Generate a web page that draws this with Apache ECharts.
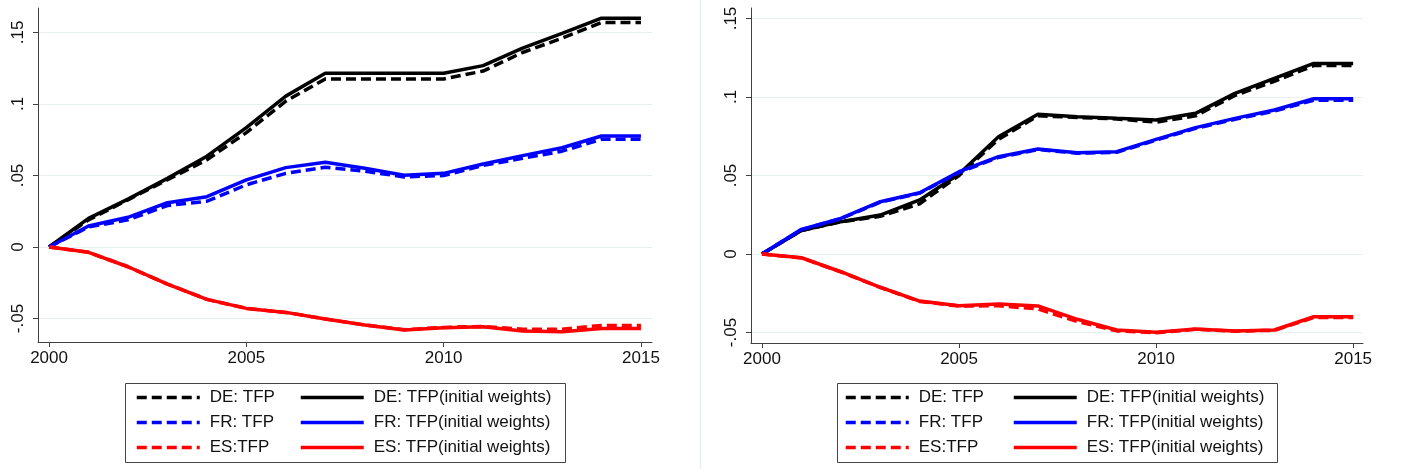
<!DOCTYPE html>
<html lang="en">
<head>
<meta charset="UTF-8">
<title>TFP DE FR ES</title>
<style>
    * { margin: 0; padding: 0; }
    #chart { width: 1403px; height: 469px; background: #fff; }
</style>
<script src="https://cdn.jsdelivr.net/npm/echarts@6/dist/echarts.min.js"></script>
</head>
<body>
<div id="chart"></div>
<script>
// years on the x axis
var years = [2000, 2001, 2002, 2003, 2004, 2005, 2006, 2007, 2008, 2009, 2010, 2011, 2012, 2013, 2014, 2015];
var xTicks = [2000, 2005, 2010, 2015];
var yTicks = [-0.05, 0, 0.05, 0.1, 0.15];

// left panel
var deTfpA  = [0, 0.019, 0.033, 0.047, 0.061, 0.080, 0.102, 0.1175, 0.1175, 0.1175, 0.1175, 0.123, 0.136, 0.146, 0.157, 0.157];
var deInitA = [0, 0.020, 0.0335, 0.048, 0.0635, 0.0835, 0.1055, 0.1215, 0.1215, 0.1215, 0.1215, 0.1268, 0.139, 0.1494, 0.160, 0.160];
var frTfpA  = [0, 0.014, 0.019, 0.029, 0.032, 0.0435, 0.0515, 0.0557, 0.053, 0.049, 0.050, 0.057, 0.062, 0.067, 0.0753, 0.0753];
var frInitA = [0, 0.0147, 0.0208, 0.031, 0.0352, 0.0469, 0.0555, 0.0592, 0.055, 0.0502, 0.0515, 0.058, 0.0639, 0.0694, 0.0776, 0.0776];
var esTfpA  = [0, -0.0037, -0.0138, -0.0259, -0.0366, -0.0429, -0.0457, -0.0503, -0.0545, -0.0578, -0.0562, -0.0555, -0.0575, -0.0575, -0.0548, -0.0548];
var esInitA = [0, -0.0037, -0.0138, -0.0259, -0.0366, -0.0429, -0.0457, -0.0503, -0.0545, -0.058, -0.0564, -0.0557, -0.0587, -0.0592, -0.0569, -0.0569];

// right panel
var deTfpB  = [0, 0.015, 0.0205, 0.024, 0.032, 0.050, 0.073, 0.088, 0.087, 0.086, 0.084, 0.088, 0.101, 0.110, 0.120, 0.120];
var deInitB = [0, 0.015, 0.0206, 0.0248, 0.0344, 0.051, 0.0747, 0.089, 0.0875, 0.0864, 0.0854, 0.0896, 0.1023, 0.1119, 0.1214, 0.1214];
var frTfpB  = [0, 0.0155, 0.0225, 0.033, 0.0388, 0.052, 0.0615, 0.0665, 0.0642, 0.0648, 0.0725, 0.080, 0.0858, 0.091, 0.098, 0.098];
var frInitB = [0, 0.0157, 0.0227, 0.0333, 0.039, 0.0524, 0.062, 0.0669, 0.0645, 0.0652, 0.073, 0.0805, 0.0864, 0.0917, 0.0989, 0.0989];
var esTfpB  = [0, -0.0025, -0.0114, -0.0213, -0.0302, -0.0332, -0.033, -0.035, -0.043, -0.049, -0.0502, -0.048, -0.0492, -0.0486, -0.0405, -0.0405];
var esInitB = [0, -0.0024, -0.0113, -0.0212, -0.030, -0.0329, -0.0318, -0.0331, -0.0416, -0.0484, -0.0499, -0.0478, -0.049, -0.0484, -0.040, -0.040];

var dashNames = ['DE: TFP', 'FR: TFP', 'ES:TFP'];
var solidNames = ['DE: TFP(initial weights)', 'FR: TFP(initial weights)', 'ES: TFP(initial weights)'];

var FONT = '"Liberation Sans", Arial, sans-serif';
var AXIS_COLOR = '#404040';

function pairs(vals) {
    return years.map(function (y, i) { return [y, vals[i]]; });
}

function line(name, vals, color, dashed, idx) {
    return {
        name: name,
        type: 'line',
        xAxisIndex: idx,
        yAxisIndex: idx,
        data: pairs(vals),
        symbol: 'none',
        lineStyle: { color: color, width: 3.5, type: dashed ? [10, 5] : 'solid', cap: 'butt' },
        itemStyle: { color: color },
        emphasis: { disabled: true }
    };
}

function xAxis(idx, min, max) {
    return {
        type: 'value', gridIndex: idx, min: min, max: max,
        axisLine: { onZero: false, lineStyle: { color: AXIS_COLOR, width: 1 } },
        axisTick: { customValues: xTicks, length: 5, lineStyle: { color: AXIS_COLOR } },
        axisLabel: {
            customValues: xTicks, color: '#111', fontSize: 17, fontFamily: FONT, margin: 8,
            formatter: function (v) { return String(v); }
        },
        splitLine: { show: false }
    };
}

function yAxis(idx, min, max) {
    return {
        type: 'value', gridIndex: idx, min: min, max: max,
        axisLine: { show: true, onZero: false, lineStyle: { color: AXIS_COLOR, width: 1 } },
        axisTick: { show: true, customValues: yTicks, length: 5, lineStyle: { color: AXIS_COLOR } },
        axisLabel: {
            customValues: yTicks, rotate: 90, color: '#111', fontSize: 17, fontFamily: FONT, margin: 11,
            formatter: function (v) { return v === 0 ? '0' : String(+v.toFixed(2)).replace('0.', '.'); }
        },
        splitLine: { show: true, lineStyle: { color: '#e8f0f2', width: 1 } }
    };
}

function legend(left, names) {
    return {
        orient: 'vertical', left: left, top: 389, padding: 0,
        itemWidth: 63, itemHeight: 14, itemGap: 8,
        selectedMode: false,
        data: names,
        itemStyle: { color: 'transparent', borderWidth: 0, opacity: 0 },
        lineStyle: { width: 3.5 },
        textStyle: { fontSize: 17, fontFamily: FONT, color: '#111', padding: [0, 0, 0, 5] }
    };
}

var chart = echarts.init(document.getElementById('chart'));

var option = {
    animation: false,
    backgroundColor: '#fff',
    grid: [
        { left: 38, top: 8, width: 614, height: 334 },
        { left: 751, top: 8, width: 612, height: 335 }
    ],
    xAxis: [xAxis(0, 1999.72, 2015.28), xAxis(1, 1999.72, 2015.25)],
    yAxis: [yAxis(0, -0.0664, 0.1671), yAxis(1, -0.0567, 0.1567)],
    legend: [
        legend(135, dashNames), legend(299, solidNames),
        legend(844, dashNames), legend(1012, solidNames)
    ],
    graphic: [
        { type: 'line', shape: { x1: 700.5, y1: 0, x2: 700.5, y2: 469 }, style: { stroke: '#e4ecef', lineWidth: 1 } },
        { type: 'rect', shape: { x: 125.5, y: 383.5, width: 440, height: 79 }, style: { fill: 'none', stroke: '#444', lineWidth: 1 } },
        { type: 'rect', shape: { x: 837.5, y: 383.5, width: 440, height: 79 }, style: { fill: 'none', stroke: '#444', lineWidth: 1 } }
    ],
    series: [
        line(dashNames[0], deTfpA, '#000', true, 0),
        line(solidNames[0], deInitA, '#000', false, 0),
        line(dashNames[1], frTfpA, '#0000ff', true, 0),
        line(solidNames[1], frInitA, '#0000ff', false, 0),
        line(dashNames[2], esTfpA, '#ff0000', true, 0),
        line(solidNames[2], esInitA, '#ff0000', false, 0),

        line(dashNames[0], deTfpB, '#000', true, 1),
        line(solidNames[0], deInitB, '#000', false, 1),
        line(dashNames[1], frTfpB, '#0000ff', true, 1),
        line(solidNames[1], frInitB, '#0000ff', false, 1),
        line(dashNames[2], esTfpB, '#ff0000', true, 1),
        line(solidNames[2], esInitB, '#ff0000', false, 1)
    ]
};

chart.setOption(option);
</script>
</body>
</html>
